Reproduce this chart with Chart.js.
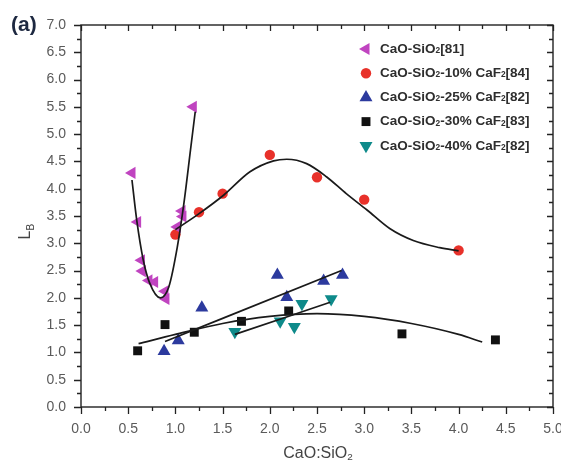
<!DOCTYPE html>
<html>
<head>
<meta charset="utf-8">
<script src="https://cdn.jsdelivr.net/npm/chart.js@4.4.1/dist/chart.umd.min.js"></script>
<style>
html,body{margin:0;padding:0;background:#fff}
#wrap{width:561px;height:464px}
</style>
</head>
<body>
<div id="wrap"><canvas id="lbChart" width="561" height="464"></canvas></div>
<script>
// measured points
const purpleX = [0.54, 0.60, 0.64, 0.65, 0.72, 0.78, 0.89, 0.90, 1.02, 1.07, 1.08, 1.19];
const purpleY = [4.29, 3.39, 2.69, 2.49, 2.32, 2.29, 2.12, 1.98, 3.30, 3.59, 3.49, 5.50];
const redX = [1.0, 1.25, 1.5, 2.0, 2.5, 3.0, 4.0];
const redY = [3.16, 3.57, 3.91, 4.62, 4.21, 3.80, 2.87];
const blueX = [0.88, 1.03, 1.28, 2.08, 2.18, 2.57, 2.77];
const blueY = [1.02, 1.22, 1.82, 2.42, 2.01, 2.31, 2.42];
const blackX = [0.60, 0.89, 1.20, 1.70, 2.20, 3.40, 4.39];
const blackY = [1.03, 1.51, 1.37, 1.57, 1.76, 1.34, 1.23];
const tealX = [1.63, 2.11, 2.26, 2.34, 2.65];
const tealY = [1.38, 1.57, 1.47, 1.89, 1.98];

// fitted curves
const purpleFitX = [0.54, 0.59, 0.66, 0.73, 0.84, 0.93, 1.02, 1.09, 1.16, 1.21];
const purpleFitY = [4.16, 3.43, 2.69, 2.26, 2.00, 2.20, 2.93, 3.73, 4.71, 5.41];
const redFitX = [1.0, 1.24, 1.51, 1.79, 2.04, 2.18, 2.39, 2.60, 2.81, 3.03, 3.27, 3.52, 3.80, 4.00];
const redFitY = [3.25, 3.53, 3.88, 4.31, 4.51, 4.54, 4.46, 4.22, 3.91, 3.61, 3.27, 3.05, 2.92, 2.86];
const blueFitX = [0.89, 2.76];
const blueFitY = [1.20, 2.50];
const blackFitX = [0.61, 1.0, 1.5, 2.0, 2.5, 3.0, 3.5, 4.0, 4.25];
const blackFitY = [1.16, 1.33, 1.53, 1.66, 1.71, 1.66, 1.53, 1.33, 1.19];
const tealFitX = [1.63, 2.64];
const tealFitY = [1.33, 1.92];

const seriesLabels = [
    "CaO-SiO₂[81]",
    "CaO-SiO₂-10% CaF₂[84]",
    "CaO-SiO₂-25% CaF₂[82]",
    "CaO-SiO₂-30% CaF₂[83]",
    "CaO-SiO₂-40% CaF₂[82]"
];
const xTitle = "CaO:SiO₂";
const panelLabel = "(a)";

const FONT = '"Liberation Sans", Arial, Helvetica, sans-serif';

function pts(xs, ys){
    return xs.map((x, i) => ({x: x, y: ys[i]}));
}

const markers = [
    {color:"#C044C0", style:"triangle", rot:-90, r:7},
    {color:"#E8312A", style:"circle", rot:0, r:5.2},
    {color:"#2C3A9E", style:"triangle", rot:0, r:7.5},
    {color:"#111111", style:"rect", rot:0, r:6.3},
    {color:"#0E8A8A", style:"triangle", rot:180, r:7.5}
];

function scatterSet(i, xs, ys){
    const m = markers[i];
    return {
        label: seriesLabels[i],
        data: pts(xs, ys),
        pointStyle: m.style,
        pointRotation: m.rot,
        pointRadius: m.r,
        pointHoverRadius: m.r,
        pointBackgroundColor: m.color,
        pointBorderColor: m.color,
        pointBorderWidth: 0,
        showLine: false,
        order: 2
    };
}

function fitSet(xs, ys){
    return {
        label: "fit",
        data: pts(xs, ys),
        showLine: true,
        borderColor: "#1a1a1a",
        borderWidth: 1.7,
        pointRadius: 0,
        pointHoverRadius: 0,
        cubicInterpolationMode: "monotone",
        fill: false,
        order: 1
    };
}

// draw text where ₂ becomes a lowered small 2
function drawSubText(ctx, str, x, y, size, weight){
    const parts = str.split("₂");
    let cx = x;
    parts.forEach((p, i) => {
        ctx.font = weight + " " + size + "px " + FONT;
        ctx.fillText(p, cx, y);
        cx += ctx.measureText(p).width;
        if(i < parts.length - 1){
            ctx.font = weight + " " + (size * 0.62) + "px " + FONT;
            ctx.fillText("2", cx, y + size * 0.12);
            cx += ctx.measureText("2").width;
        }
    });
    return cx - x;
}

function measureSub(ctx, str, size, weight){
    const parts = str.split("₂");
    let w = 0;
    parts.forEach((p, i) => {
        ctx.font = weight + " " + size + "px " + FONT;
        w += ctx.measureText(p).width;
        if(i < parts.length - 1){
            ctx.font = weight + " " + (size * 0.62) + "px " + FONT;
            w += ctx.measureText("2").width;
        }
    });
    return w;
}

const framePlugin = {
    id: "frame",
    afterDraw(chart){
        const ctx = chart.ctx;
        const a = chart.chartArea;
        const xs = chart.scales.x;
        const ys = chart.scales.y;
        ctx.save();
        ctx.strokeStyle = "#222";
        ctx.lineWidth = 1.4;
        ctx.strokeRect(a.left, a.top, a.right - a.left, a.bottom - a.top);

        ctx.lineWidth = 1.3;
        ctx.beginPath();
        for(let k = 0; k <= 20; k++){
            const v = k * 0.25;
            const px = Math.round(xs.getPixelForValue(v)) + 0.5;
            const major = k % 2 === 0;
            ctx.moveTo(px, a.bottom);
            ctx.lineTo(px, a.bottom + (major ? 7 : 4));
            ctx.moveTo(px, a.top);
            ctx.lineTo(px, a.top + (major ? 6 : 4));
        }
        for(let k = 0; k <= 28; k++){
            const v = k * 0.25;
            const py = Math.round(ys.getPixelForValue(v)) + 0.5;
            const major = k % 2 === 0;
            ctx.moveTo(a.left, py);
            ctx.lineTo(a.left - (major ? 7 : 4), py);
            ctx.moveTo(a.right, py);
            ctx.lineTo(a.right - (major ? 6 : 4), py);
        }
        ctx.stroke();

        // panel label
        ctx.fillStyle = "#1d2840";
        ctx.font = "bold 21px " + FONT;
        ctx.textBaseline = "alphabetic";
        ctx.textAlign = "left";
        ctx.fillText(panelLabel, 11, 31);

        // x title
        ctx.fillStyle = "#444";
        const tw = measureSub(ctx, xTitle, 16, "normal");
        drawSubText(ctx, xTitle, 318 - tw / 2, 458, 16, "normal");

        // y title L_B
        ctx.save();
        ctx.translate(30, 232);
        ctx.rotate(-Math.PI / 2);
        ctx.font = "normal 16px " + FONT;
        const lw = ctx.measureText("L").width;
        ctx.fillText("L", -lw / 2 - 3, 0);
        ctx.font = "normal 10px " + FONT;
        ctx.fillText("B", lw / 2 - 3, 4);
        ctx.restore();

        // legend
        const mx = a.right - 187;
        const tx = a.right - 173;
        const top = a.top + 24;
        const step = 24.2;
        seriesLabels.forEach((lab, i) => {
            const m = markers[i];
            const yy = top + i * step;
            ctx.fillStyle = m.color;
            ctx.strokeStyle = m.color;
            Chart.helpers.drawPoint(ctx, {
                pointStyle: m.style,
                rotation: m.rot,
                radius: m.r,
                borderWidth: 0
            }, mx, yy);
            ctx.fillStyle = "#2e2e2e";
            ctx.textBaseline = "middle";
            drawSubText(ctx, lab, tx, yy, 13.5, "bold");
        });
        ctx.restore();
    }
};

function tickFmt(v){
    return Number(v).toFixed(1);
}

new Chart(document.getElementById("lbChart"), {
    type: "scatter",
    data: {
        datasets: [
            scatterSet(0, purpleX, purpleY),
            scatterSet(1, redX, redY),
            scatterSet(2, blueX, blueY),
            scatterSet(3, blackX, blackY),
            scatterSet(4, tealX, tealY),
            fitSet(purpleFitX, purpleFitY),
            fitSet(redFitX, redFitY),
            fitSet(blueFitX, blueFitY),
            fitSet(blackFitX, blackFitY),
            fitSet(tealFitX, tealFitY)
        ]
    },
    options: {
        responsive: false,
        animation: false,
        layout: {autoPadding: false, padding: {top: 25, right: 8, left: 0, bottom: 0}},
        plugins: {
            legend: {display: false},
            tooltip: {enabled: false}
        },
        scales: {
            x: {
                type: "linear",
                min: 0,
                max: 5,
                grid: {display: false, drawTicks: false},
                border: {display: false},
                ticks: {
                    stepSize: 0.5,
                    padding: 14,
                    color: "#5a5a5a",
                    font: {family: FONT, size: 14},
                    callback: tickFmt,
                    maxRotation: 0
                },
                afterFit(scale){
                    scale.height = 57;
                    scale.paddingLeft = 0;
                    scale.paddingRight = 0;
                }
            },
            y: {
                type: "linear",
                min: 0,
                max: 7,
                grid: {display: false, drawTicks: false},
                border: {display: false},
                ticks: {
                    stepSize: 0.5,
                    padding: 15,
                    color: "#5a5a5a",
                    font: {family: FONT, size: 14},
                    callback: tickFmt
                },
                afterFit(scale){
                    scale.width = 81;
                    scale.paddingTop = 0;
                    scale.paddingBottom = 0;
                }
            }
        }
    },
    plugins: [framePlugin]
});
</script>
</body>
</html>
